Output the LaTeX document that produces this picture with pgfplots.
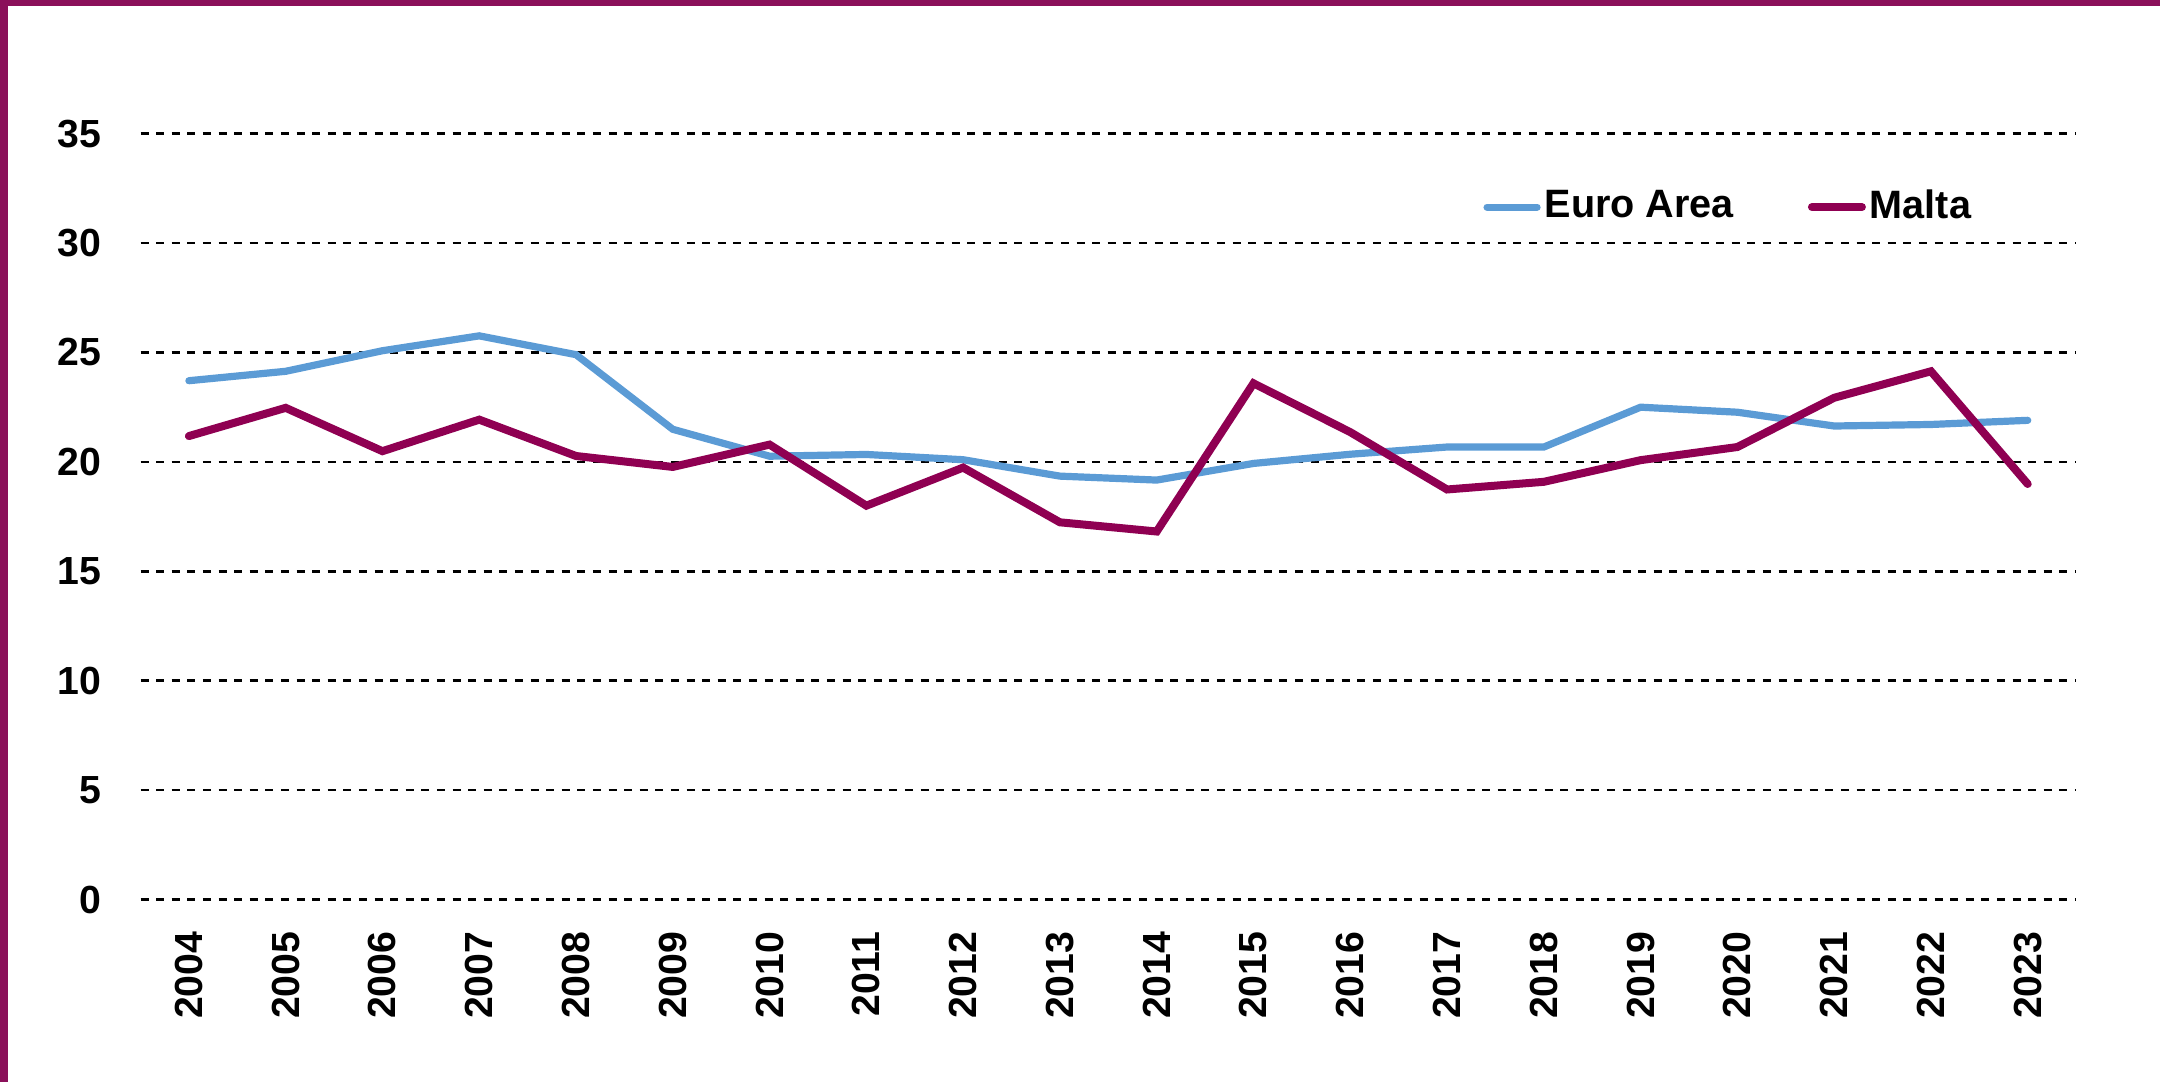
\documentclass[border=0pt]{standalone}
\usepackage{fontspec}
\setmainfont{Liberation Sans}
\usepackage{graphicx}
\usepackage{pgfplots}
\pgfplotsset{compat=1.18}
\definecolor{eurocol}{RGB}{91,155,213}
\definecolor{maltacol}{RGB}{143,0,82}
\definecolor{bordercol}{RGB}{139,16,90}
\begin{document}
\begin{tikzpicture}
\path[use as bounding box] (0,0) rectangle (540pt,-270.5pt);
\fill[bordercol] (0,0) rectangle (540pt,-1.4pt);
\fill[bordercol] (0,0) rectangle (2pt,-270.5pt);
\begin{axis}[
  at={(35.125pt,-224.9pt)}, anchor=south west,
  scale only axis, width=483.9pt, height=191.5pt,
  xmin=-0.5, xmax=19.5, ymin=0, ymax=35,
  ytick={0,5,...,35},
  xtick={0,...,19},
  xticklabels={2004,2005,2006,2007,2008,2009,2010,2011,2012,2013,2014,2015,2016,2017,2018,2019,2020,2021,2022,2023},
  axis line style={draw=none},
  major tick length=0pt,
  ymajorgrids,
  grid style={black, line width=0.65pt, dash pattern=on 2pt off 1.9pt},
  /pgf/number format/assume math mode=true,
  tick label style={font=\bfseries\fontsize{9.8}{11}\selectfont, inner sep=0pt},
  yticklabel style={anchor=east},
  yticklabel shift=9.7pt,
  xticklabel style={rotate=90, anchor=east},
  xticklabel shift=7.8pt,
  clip=false,
  legend columns=2,
  legend style={draw=none, fill=none, inner sep=0pt,
    at={(0.6934,0.904)}, anchor=west,
    nodes={inner sep=0pt, anchor=west},
    font=\bfseries\fontsize{9.9}{11}\selectfont,
    /tikz/every odd column/.append style={column sep=1pt},
    /tikz/every even column/.append style={column sep=18.5pt}},
  legend image code/.code={\draw[#1, line cap=round] (0pt,0pt) -- (12.5pt,0pt);},
]
\addplot[eurocol, line width=1.8pt, line cap=round] coordinates {
(0,23.71) (1,24.14) (2,25.08) (3,25.76) (4,24.9) (5,21.49) (6,20.26) (7,20.34) (8,20.1) (9,19.35)
(10,19.17) (11,19.93) (12,20.35) (13,20.68) (14,20.68) (15,22.5) (16,22.27) (17,21.64) (18,21.71) (19,21.9)};
\addlegendentry{Euro Area}
\addplot[maltacol, line width=2pt, line cap=round] coordinates {
(0,21.18) (1,22.47) (2,20.49) (3,21.93) (4,20.27) (5,19.77) (6,20.79) (7,18.0) (8,19.74) (9,17.24)
(10,16.82) (11,23.59) (12,21.36) (13,18.74) (14,19.09) (15,20.08) (16,20.68) (17,22.93) (18,24.14) (19,18.99)};
\addlegendentry{Malta}
\end{axis}
\end{tikzpicture}
\end{document}
